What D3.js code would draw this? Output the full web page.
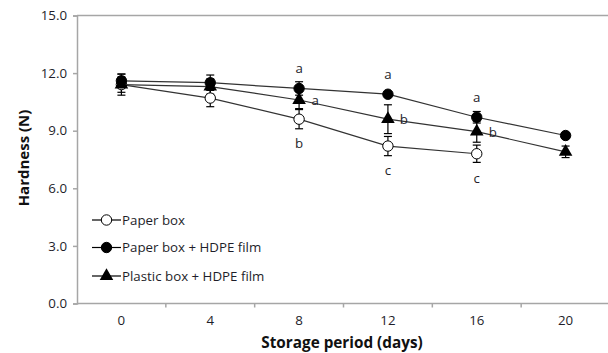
<!DOCTYPE html>
<html><head><meta charset="utf-8">
<script src="https://cdn.jsdelivr.net/npm/d3@7"></script>
<style>body{margin:0;background:#fff}svg{display:block}text{font-family:"Open Sans","Noto Sans",sans-serif}</style>
</head><body><svg id="c" width="608" height="353"></svg>
<script>
const days = ["0","4","8","12","16","20"];
const yTicks = [0,3,6,9,12,15];
const seriesNames = ["Paper box","Paper box + HDPE film","Plastic box + HDPE film"];
const paperBox = [11.4, 10.7, 9.6, 8.2, 7.8, null];
const paperBoxErr = [0.4, 0.45, 0.5, 0.5, 0.45, null];
const paperBoxLetters = ["", "", "b", "c", "c", ""];
const paperHdpe = [11.6, 11.5, 11.2, 10.9, 9.7, 8.75];
const paperHdpeErr = [0.35, 0.4, 0.35, 0.1, 0.3, 0.15];
const paperHdpeLetters = ["", "", "a", "a", "a", ""];
const plastic = [11.4, 11.3, 10.6, 9.6, 8.95, 7.9];
const plasticErr = [0.55, 0.4, 0.45, 0.75, 0.55, 0.3];
const plasticLetters = ["", "", "a", "b", "b", ""];

const svg = d3.select("#c");
const x = d3.scaleBand().domain(days).range([77, 610]).padding(0);
const y = d3.scaleLinear().domain([0, 15]).range([303.5, 15.5]);
const axisCol = "#a6a6a6", txtCol = "#1e1e2a";
const fs = 13.3;

svg.append("line").attr("x1", 77).attr("x2", 608).attr("y1", y(15)).attr("y2", y(15)).attr("stroke", axisCol).attr("stroke-width", 1.5);

const ya = svg.append("g").attr("transform", "translate(77,0)")
  .call(d3.axisLeft(y).tickValues(yTicks).tickFormat(d3.format(".1f")).tickSize(4).tickPadding(6));
ya.select(".domain").attr("stroke", axisCol).attr("stroke-width", 1.5);
ya.selectAll(".tick line").attr("stroke", axisCol).attr("stroke-width", 1.5);
ya.selectAll("text").attr("font-size", fs).attr("fill", txtCol).attr("font-family", "Open Sans");

const xa = svg.append("g").attr("transform", `translate(0,${y(0)})`)
  .call(d3.axisBottom(x).tickSize(0).tickPadding(12));
xa.select(".domain").attr("stroke", axisCol).attr("stroke-width", 1.5).attr("d", `M77,0H608`);
xa.selectAll("text").attr("font-size", fs).attr("fill", txtCol).attr("font-family", "Open Sans");
xa.selectAll(".btick").data(days.slice(1)).enter().append("line")
  .attr("x1", d => x(d)).attr("x2", d => x(d)).attr("y1", 0).attr("y2", 4)
  .attr("stroke", axisCol).attr("stroke-width", 1.5);

svg.append("text").attr("x", 342).attr("y", 348).attr("text-anchor", "middle")
  .attr("font-size", 15.3).attr("font-weight", "bold").attr("fill", "#111").text("Storage period (days)");
svg.append("text").attr("transform", "translate(29,158) rotate(-90)").attr("text-anchor", "middle")
  .attr("font-size", 15).attr("font-weight", "bold").attr("fill", "#111").text("Hardness (N)");

const cx = i => x(days[i]) + x.bandwidth() / 2;
const series = [
  {vals: paperBox, err: paperBoxErr, letters: paperBoxLetters, marker: "open", lpos: "below"},
  {vals: paperHdpe, err: paperHdpeErr, letters: paperHdpeLetters, marker: "filled", lpos: "above"},
  {vals: plastic, err: plasticErr, letters: plasticLetters, marker: "tri", lpos: "right"}
];
const line = d3.line().defined(d => d.v != null).x(d => cx(d.i)).y(d => y(d.v));
const tri = d3.symbol().type(d3.symbolTriangle).size(80);

function drawMarker(g, type, px, py) {
  if (type === "tri") {
    g.append("path").attr("d", tri()).attr("transform", `translate(${px},${py})`).attr("fill", "#000");
  } else {
    g.append("circle").attr("cx", px).attr("cy", py).attr("r", 5.2)
      .attr("fill", type === "open" ? "#fff" : "#000").attr("stroke", "#000").attr("stroke-width", 1);
  }
}

series.forEach(s => {
  const pts = s.vals.map((v, i) => ({v, i}));
  svg.append("path").datum(pts).attr("d", line).attr("fill", "none").attr("stroke", "#333").attr("stroke-width", 1.2);
});
series.forEach(s => {
  s.vals.forEach((v, i) => {
    if (v == null) return;
    const e = s.err[i], px = cx(i);
    const g = svg.append("g").attr("stroke", "#000").attr("stroke-width", 1.2);
    g.append("line").attr("x1", px).attr("x2", px).attr("y1", y(v + e)).attr("y2", y(v - e));
    g.append("line").attr("x1", px - 4).attr("x2", px + 4).attr("y1", y(v + e)).attr("y2", y(v + e));
    g.append("line").attr("x1", px - 4).attr("x2", px + 4).attr("y1", y(v - e)).attr("y2", y(v - e));
  });
});
[0, 2, 1].forEach(k => {
  const s = series[k];
  s.vals.forEach((v, i) => { if (v != null) drawMarker(svg, s.marker, cx(i), y(v)); });
});
series.forEach(s => {
  s.letters.forEach((l, i) => {
    if (!l) return;
    const px = cx(i), py = y(s.vals[i]);
    let tx = px, ty = py;
    if (s.lpos === "above") ty = py - 15;
    else if (s.lpos === "below") ty = py + 29;
    else { tx = px + 16; ty = py + 5; }
    svg.append("text").attr("x", tx).attr("y", ty).attr("text-anchor", "middle")
      .attr("font-size", fs).attr("fill", txtCol).text(l);
  });
});

const legY = [220, 247.5, 276];
series.forEach((s, k) => {
  const g = svg.append("g");
  g.append("line").attr("x1", 92).attr("x2", 121).attr("y1", legY[k]).attr("y2", legY[k]).attr("stroke", "#000").attr("stroke-width", 1.2);
  drawMarker(g, s.marker, 106.5, legY[k]);
  g.append("text").attr("x", 122).attr("y", legY[k] + 4.5).attr("font-size", fs).attr("fill", txtCol).text(seriesNames[k]);
});
</script></body></html>
